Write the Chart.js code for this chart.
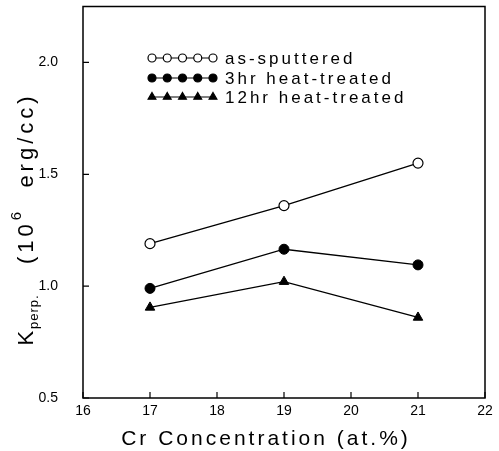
<!DOCTYPE html>
<html>
<head>
<meta charset="utf-8">
<script src="https://cdn.jsdelivr.net/npm/chart.js@4"></script>
<style>
  html, body { margin: 0; padding: 0; background: #fff; }
  #chart { display: block; }
</style>
</head>
<body>
<canvas id="chart" width="499" height="451"></canvas>
<script>
// data
const crConc = [17, 19, 21];
const asSputtered = [1.19, 1.36, 1.55];
const heat3hr = [0.99, 1.165, 1.095];
const heat12hr = [0.905, 1.02, 0.86];
const seriesNames = ['as-sputtered', '3hr heat-treated', '12hr heat-treated'];
const xTicks = [16, 17, 18, 19, 20, 21, 22];
const yTicks = [0.5, 1.0, 1.5, 2.0];

const toPoints = (ys) => ys.map((y, i) => ({ x: crConc[i], y: y }));

const ctx = document.getElementById('chart').getContext('2d');

// inward ticks, closed frame, legend and axis titles
const framePlugin = {
    id: 'frame',
    afterDraw(chart) {
        const c = chart.ctx;
        const a = chart.chartArea;
        const xs = chart.scales.x;
        const ys = chart.scales.y;
        c.save();
        c.strokeStyle = '#000';
        c.lineWidth = 1.5;
        c.strokeRect(a.left, a.top, a.right - a.left, a.bottom - a.top);

        c.lineWidth = 1.2;
        c.beginPath();
        xTicks.forEach(v => {
            const px = xs.getPixelForValue(v);
            c.moveTo(px, a.bottom);
            c.lineTo(px, a.bottom - 6);
        });
        yTicks.forEach(v => {
            const py = ys.getPixelForValue(v);
            c.moveTo(a.left, py);
            c.lineTo(a.left + 6, py);
        });
        c.stroke();

        // legend: five markers on a line, like the original
        const rowY = [58, 78, 97];
        chart.data.datasets.forEach((ds, i) => {
            const y = rowY[i];
            c.strokeStyle = '#000';
            c.lineWidth = 1;
            c.beginPath();
            c.moveTo(152, y);
            c.lineTo(213, y);
            c.stroke();
            for (let k = 0; k < 5; k++) {
                const x = 152 + k * 15.25;
                c.fillStyle = ds.pointBackgroundColor;
                c.strokeStyle = ds.pointBorderColor;
                c.lineWidth = 1.2;
                Chart.helpers.drawPoint(c, {
                    pointStyle: ds.pointStyle,
                    radius: ds.pointStyle === 'triangle' ? 4.5 : 4,
                    rotation: 0,
                    borderWidth: 1.2
                }, x, y);
            }
            c.fillStyle = '#000';
            c.font = '17px "Liberation Sans", sans-serif';
            c.letterSpacing = '3px';
            c.textBaseline = 'middle';
            c.textAlign = 'left';
            c.fillText(ds.label, 225, y + 1);
        });

        // x title
        c.font = '21px "Liberation Sans", sans-serif';
        c.letterSpacing = '3px';
        c.textAlign = 'center';
        c.textBaseline = 'middle';
        c.fillText('Cr Concentration (at.%)', 266, 439);

        // y title, rotated, with sub/superscript
        c.translate(27, 219);
        c.rotate(-Math.PI / 2);
        const parts = [
            { t: 'K', f: '22px', dy: 0, sp: 2 },
            { t: 'perp.', f: '13px', dy: 7, sp: 1 },
            { t: '   (10', f: '22px', dy: 0, sp: 4 },
            { t: '6', f: '15px', dy: -10, sp: 4 },
            { t: '  erg/cc)', f: '22px', dy: 0, sp: 4 }
        ];
        let total = 0;
        parts.forEach(p => {
            c.font = p.f + ' "Liberation Sans", sans-serif';
            c.letterSpacing = p.sp + 'px';
            p.w = c.measureText(p.t).width;
            total += p.w;
        });
        let x0 = -total / 2;
        c.textAlign = 'left';
        parts.forEach(p => {
            c.font = p.f + ' "Liberation Sans", sans-serif';
            c.letterSpacing = p.sp + 'px';
            c.fillText(p.t, x0, p.dy);
            x0 += p.w;
        });
        c.restore();
    }
};

new Chart(ctx, {
    type: 'scatter',
    data: {
        datasets: [{
            label: seriesNames[0],
            data: toPoints(asSputtered),
            showLine: true,
            borderColor: '#000',
            borderWidth: 1.3,
            pointStyle: 'circle',
            pointRadius: 5,
            pointBackgroundColor: '#fff',
            pointBorderColor: '#000',
            pointBorderWidth: 1.2
        }, {
            label: seriesNames[1],
            data: toPoints(heat3hr),
            showLine: true,
            borderColor: '#000',
            borderWidth: 1.3,
            pointStyle: 'circle',
            pointRadius: 5,
            pointBackgroundColor: '#000',
            pointBorderColor: '#000',
            pointBorderWidth: 1
        }, {
            label: seriesNames[2],
            data: toPoints(heat12hr),
            showLine: true,
            borderColor: '#000',
            borderWidth: 1.3,
            pointStyle: 'triangle',
            pointRadius: 5.5,
            pointBackgroundColor: '#000',
            pointBorderColor: '#000',
            pointBorderWidth: 1
        }]
    },
    options: {
        responsive: false,
        animation: false,
        layout: { padding: { left: 0, right: 14, top: 4, bottom: 0 } },
        plugins: {
            legend: { display: false },
            tooltip: { enabled: false }
        },
        scales: {
            x: {
                type: 'linear',
                min: 16,
                max: 22,
                afterBuildTicks: (s) => { s.ticks = xTicks.map(v => ({ value: v })); },
                afterFit: (s) => { s.height = 53; },
                grid: { display: false, drawTicks: false },
                border: { display: false },
                ticks: {
                    color: '#000',
                    padding: 5,
                    font: { family: '"Liberation Sans", sans-serif', size: 14 }
                }
            },
            y: {
                type: 'linear',
                min: 0.5,
                max: 2.25,
                afterBuildTicks: (s) => { s.ticks = yTicks.map(v => ({ value: v })); },
                afterFit: (s) => { s.width = 83; s.paddingTop = 0; s.paddingBottom = 0; },
                grid: { display: false, drawTicks: false },
                border: { display: false },
                ticks: {
                    color: '#000',
                    padding: 25,
                    font: { family: '"Liberation Sans Narrow", "Liberation Sans", sans-serif', size: 14 },
                    callback: (v) => v.toFixed(1)
                }
            }
        }
    },
    plugins: [framePlugin]
});
</script>
</body>
</html>
